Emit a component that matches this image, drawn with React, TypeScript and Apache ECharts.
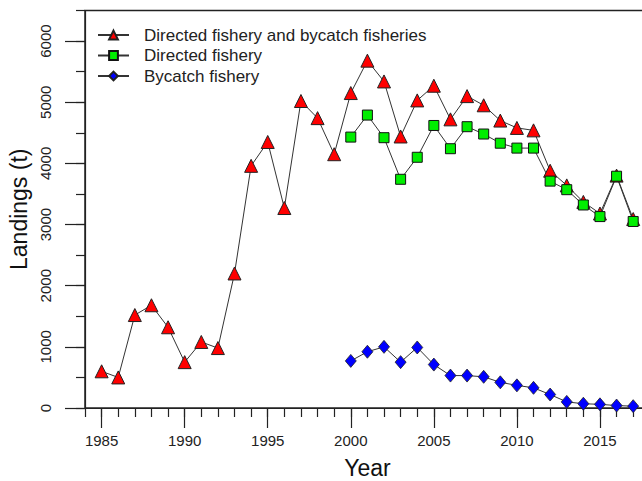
import React, { useEffect, useRef } from "react";
import * as echarts from "echarts";

const allYears = [1985, 1986, 1987, 1988, 1989, 1990, 1991, 1992, 1993, 1994, 1995, 1996, 1997, 1998, 1999, 2000, 2001, 2002, 2003, 2004, 2005, 2006, 2007, 2008, 2009, 2010, 2011, 2012, 2013, 2014, 2015, 2016, 2017];
const totalLandings = [600, 500, 1520, 1680, 1320, 750, 1080, 980, 2200, 3960, 4350, 3270, 5020, 4740, 4150, 5150, 5680, 5340, 4440, 5030, 5270, 4720, 5100, 4950, 4700, 4580, 4540, 3880, 3640, 3370, 3180, 3800, 3090];
const recentYears = [2000, 2001, 2002, 2003, 2004, 2005, 2006, 2007, 2008, 2009, 2010, 2011, 2012, 2013, 2014, 2015, 2016, 2017];
const directedLandings = [4430, 4790, 4420, 3740, 4100, 4620, 4240, 4600, 4480, 4330, 4250, 4250, 3710, 3570, 3320, 3130, 3790, 3050];
const bycatchLandings = [770, 920, 1000, 750, 990, 710, 530, 530, 510, 420, 370, 330, 220, 100, 70, 60, 40, 30];
const xMajorTicks = [1985, 1990, 1995, 2000, 2005, 2010, 2015];
const yMajorTicks = [0, 1000, 2000, 3000, 4000, 5000, 6000];
const seriesNames = ["Directed fishery and bycatch fisheries", "Directed fishery", "Bycatch fishery"];

const FONT = "'Liberation Sans', Arial, sans-serif";

export default function App() {
  const ref = useRef<HTMLDivElement>(null);
  useEffect(() => {
    document.body.style.margin = "0";
    const chart = echarts.init(ref.current!, null, { renderer: "svg" });
    const pair = (xs: number[], ys: number[]) => xs.map((x, i) => [x, ys[i]]);
    const lineStyle = { color: "#333", width: 1 };
    const plain = (v: number) => String(v);
    chart.setOption({
      animation: false,
      backgroundColor: "#fff",
      textStyle: { fontFamily: FONT },
      grid: {
        left: 85,
        right: -7.8,
        top: 10.5,
        bottom: 73,
        show: true,
        borderColor: "#222",
        borderWidth: 1.5,
        backgroundColor: "transparent",
        outerBoundsMode: "none",
      },
      legend: {
        orient: "vertical",
        left: 92,
        top: 20,
        itemWidth: 31,
        itemHeight: 11,
        itemGap: 0.5,
        data: seriesNames,
        textStyle: { fontSize: 17, color: "#222", fontFamily: FONT, padding: [0, 0, 0, 10], lineHeight: 20 },
      },
      xAxis: [
        {
          type: "value",
          min: 1984,
          max: 2018,
          interval: 1,
          position: "bottom",
          axisLine: { onZero: false, lineStyle: { color: "#222", width: 1.2 } },
          axisTick: { length: 9, lineStyle: { color: "#222", width: 1.2 } },
          axisLabel: { show: false },
          splitLine: { show: false },
        },
        {
          type: "value",
          min: 1984,
          max: 2018,
          interval: 1,
          position: "bottom",
          axisLine: { show: false, onZero: false },
          axisTick: { customValues: xMajorTicks, length: 20, lineStyle: { color: "#222", width: 1.2 } },
          axisLabel: { customValues: xMajorTicks, formatter: plain, fontSize: 15, color: "#222", margin: 25, fontFamily: FONT },
          splitLine: { show: false },
          name: "Year",
          nameLocation: "middle",
          nameGap: 48,
          nameTextStyle: { fontSize: 23, color: "#111", fontFamily: FONT },
        },
      ],
      yAxis: [
        {
          type: "value",
          min: 0,
          max: 6500,
          interval: 500,
          position: "left",
          axisLine: { show: true, onZero: false, lineStyle: { color: "#222", width: 1.2 } },
          axisTick: { show: true, length: 9, lineStyle: { color: "#222", width: 1.2 } },
          axisLabel: { show: false },
          splitLine: { show: false },
        },
        {
          type: "value",
          min: 0,
          max: 6500,
          interval: 500,
          position: "left",
          axisLine: { show: false, onZero: false },
          axisTick: { show: true, customValues: yMajorTicks, length: 20, lineStyle: { color: "#222", width: 1.2 } },
          axisLabel: { customValues: yMajorTicks, formatter: plain, rotate: 90, fontSize: 15, color: "#222", margin: 32, fontFamily: FONT },
          splitLine: { show: false },
          name: "Landings (t)",
          nameLocation: "middle",
          nameGap: 51,
          nameTextStyle: { fontSize: 23, color: "#111", fontFamily: FONT },
        },
      ],
      series: [
        {
          name: seriesNames[0],
          type: "line",
          data: pair(allYears, totalLandings),
          symbol: "triangle",
          symbolSize: 13,
          lineStyle,
          itemStyle: { color: "#ff0000", borderColor: "#222", borderWidth: 1 },
        },
        {
          name: seriesNames[1],
          type: "line",
          data: pair(recentYears, directedLandings),
          symbol: "rect",
          symbolSize: 10,
          lineStyle,
          itemStyle: { color: "#00ee00", borderColor: "#111", borderWidth: 1 },
        },
        {
          name: seriesNames[2],
          type: "line",
          data: pair(recentYears, bycatchLandings),
          symbol: "diamond",
          symbolSize: [11, 13],
          lineStyle,
          itemStyle: { color: "#0000ff", borderColor: "#222", borderWidth: 0.8 },
        },
      ],
    });
    return () => chart.dispose();
  }, []);
  return <div ref={ref} style={{ width: 642, height: 481 }} />;
}
